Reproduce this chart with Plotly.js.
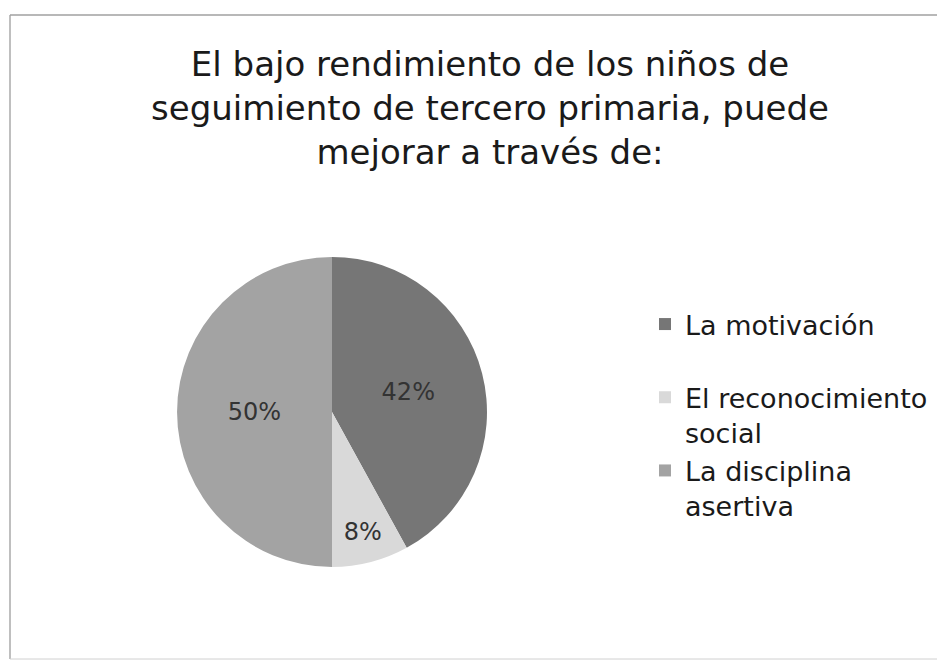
<!DOCTYPE html>
<html>
<head>
<meta charset="utf-8">
<script src="https://cdn.plot.ly/plotly-3.0.1.min.js"></script>
<style>html,body{margin:0;padding:0;background:#fff;}#chart{width:937px;height:662px;}</style>
</head>
<body>
<div id="chart"></div>
<script>
const categories = ["La motivación", "El reconocimiento<br>social", "La disciplina<br>asertiva"];
const values = [42, 8, 50];
const sliceColors = ["#767676", "#d9d9d9", "#a3a3a3"];
const chartTitle = "El bajo rendimiento de los niños de<br>seguimiento de tercero primaria, puede<br>mejorar a través de:";

// first legend label padded with a blank line so entries keep the reference spacing
const legendLabels = [categories[0] + "<br> ", categories[1], categories[2]];

const W = 937, H = 662;
const cx = 332, cy = 412, r = 155;
const FONT = "DejaVu Sans, Verdana, sans-serif";

const trace = {
  type: "pie",
  labels: legendLabels,
  values: values,
  sort: false,
  direction: "clockwise",
  rotation: 0,
  marker: {colors: sliceColors, line: {width: 0}},
  textinfo: "percent",
  textposition: "inside",
  insidetextorientation: "horizontal",
  textfont: {family: FONT, size: 24, color: "#333333"},
  hoverinfo: "label+percent",
  domain: {x: [(cx - r) / W, (cx + r) / W], y: [1 - (cy + r) / H, 1 - (cy - r) / H]}
};

const layout = {
  width: W, height: H,
  margin: {l: 0, r: 0, t: 0, b: 0},
  paper_bgcolor: "#ffffff",
  title: {
    text: chartTitle,
    x: 490 / W, xanchor: "center",
    y: 1 - 76 / H, yanchor: "top",
    yref: "container",
    font: {family: FONT, size: 34, color: "#1a1a1a"}
  },
  showlegend: true,
  legend: {
    x: 645 / W, xanchor: "left",
    y: 1 - 300 / H, yanchor: "top",
    valign: "top",
    font: {family: FONT, size: 27, color: "#1a1a1a"},
    itemclick: false,
    bgcolor: "rgba(0,0,0,0)"
  },
  shapes: [
    {type: "line", xref: "paper", yref: "paper", x0: 10 / W, x1: 10 / W, y0: 1 - 659 / H, y1: 1 - 15 / H, line: {color: "#aaaaaa", width: 1.5}},
    {type: "line", xref: "paper", yref: "paper", x0: 10 / W, x1: 1, y0: 1 - 15 / H, y1: 1 - 15 / H, line: {color: "#a0a0a0", width: 1.5}},
    {type: "line", xref: "paper", yref: "paper", x0: 10 / W, x1: 1, y0: 1 - 659 / H, y1: 1 - 659 / H, line: {color: "#d0d0d0", width: 1}}
  ]
};

Plotly.newPlot("chart", [trace], layout, {displayModeBar: false, staticPlot: true});
</script>
</body>
</html>
